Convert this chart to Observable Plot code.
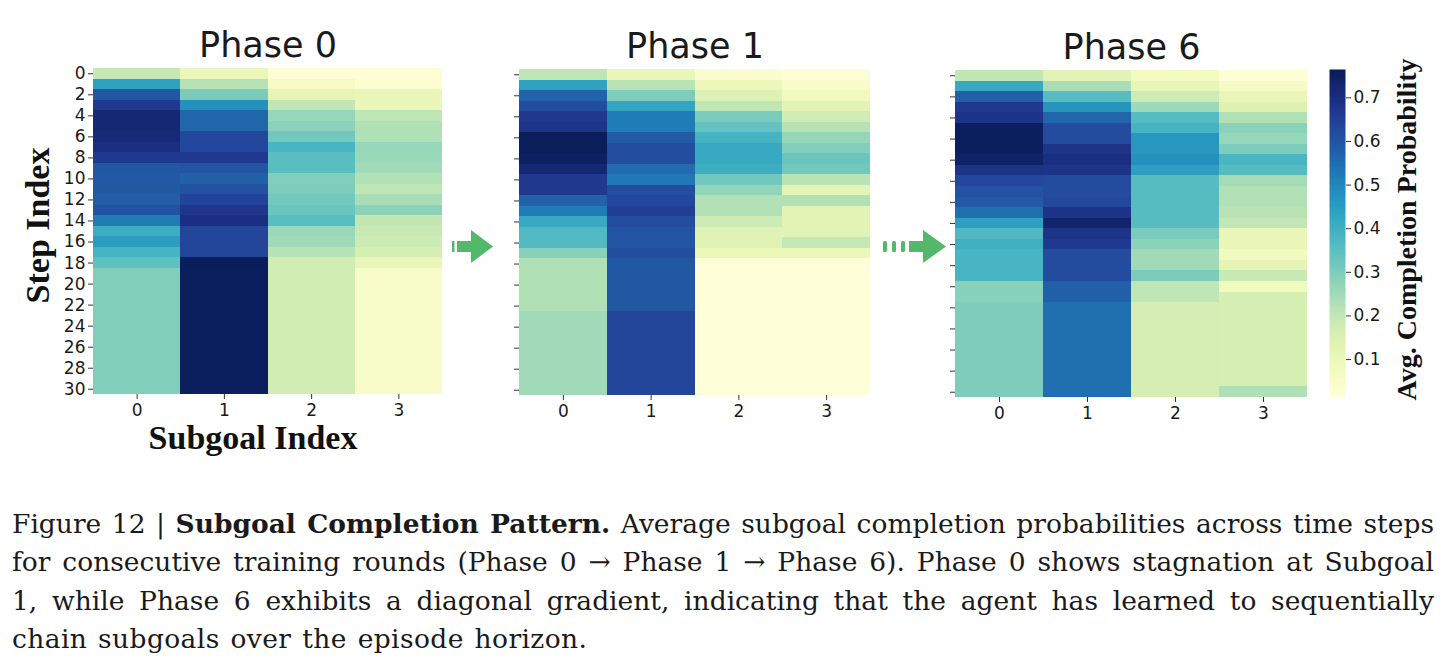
<!DOCTYPE html>
<html>
<head>
<meta charset="utf-8">
<script src="https://cdn.jsdelivr.net/npm/d3@7"></script>
<script src="https://cdn.jsdelivr.net/npm/@observablehq/plot@0.6"></script>
<style>
  html, body { margin: 0; padding: 0; background: #fff; }
  body { width: 1446px; height: 670px; position: relative; overflow: hidden; font-family: "DejaVu Sans", sans-serif; }
  .abs { position: absolute; }
  #caption { position: absolute; left: 12px; top: 505px; width: 1422px; font-family: "DejaVu Serif", serif; font-size: 26.5px; line-height: 38.4px; color: #1a1a1a; }
  #caption div { text-align: justify; text-align-last: justify; white-space: nowrap; }
  #caption div.last { text-align: left; text-align-last: left; word-spacing: 2px; letter-spacing: 0.4px; }
</style>
</head>
<body>
<div id="root"></div>
<div id="caption">
  <div>Figure 12 | <b>Subgoal Completion Pattern.</b> Average subgoal completion probabilities across time steps</div>
  <div>for consecutive training rounds (Phase 0 → Phase 1 → Phase 6). Phase 0 shows stagnation at Subgoal</div>
  <div>1, while Phase 6 exhibits a diagonal gradient, indicating that the agent has learned to sequentially</div>
  <div class="last">chain subgoals over the episode horizon.</div>
</div>
<script>
// ---------- data ----------
const subgoals = [0, 1, 2, 3];
const steps = [0,1,2,3,4,5,6,7,8,9,10,11,12,13,14,15,16,17,18,19,20,21,22,23,24,25,26,27,28,29,30];
const yTickValues = [0,2,4,6,8,10,12,14,16,18,20,22,24,26,28,30];
const colorbarTicks = [0.1, 0.2, 0.3, 0.4, 0.5, 0.6, 0.7];
const colorDomain = [0.013, 0.765];
const phaseTitles = ["Phase 0", "Phase 1", "Phase 6"];

// Phase 0 — one array per subgoal, indexed by step 0..30
const phase0_sg0 = [0.195,0.44,0.595,0.67,0.72,0.72,0.715,0.695,0.665,0.595,0.59,0.595,0.58,0.605,0.52,0.405,0.45,0.39,0.345,0.295,0.295,0.295,0.295,0.295,0.295,0.295,0.295,0.295,0.295,0.295,0.295];
const phase0_sg1 = [0.105,0.22,0.305,0.48,0.565,0.565,0.63,0.63,0.665,0.6,0.575,0.605,0.64,0.675,0.695,0.635,0.635,0.635,0.76,0.755,0.755,0.755,0.755,0.755,0.755,0.755,0.755,0.755,0.755,0.755,0.755];
const phase0_sg2 = [0.022,0.06,0.12,0.2,0.265,0.28,0.315,0.385,0.355,0.355,0.295,0.3,0.315,0.33,0.355,0.26,0.25,0.22,0.17,0.17,0.17,0.17,0.17,0.17,0.17,0.17,0.17,0.17,0.17,0.17,0.17];
const phase0_sg3 = [0.02,0.03,0.105,0.105,0.205,0.23,0.23,0.265,0.26,0.25,0.225,0.205,0.24,0.28,0.2,0.19,0.18,0.16,0.11,0.055,0.055,0.055,0.055,0.055,0.055,0.055,0.055,0.055,0.055,0.055,0.055];

// Phase 1
const phase1_sg0 = [0.205,0.44,0.57,0.615,0.67,0.68,0.76,0.76,0.75,0.72,0.67,0.67,0.575,0.52,0.42,0.37,0.37,0.285,0.23,0.23,0.23,0.23,0.23,0.25,0.25,0.25,0.25,0.25,0.25,0.25,0.25];
const phase1_sg1 = [0.105,0.215,0.3,0.43,0.52,0.52,0.585,0.615,0.615,0.555,0.53,0.615,0.63,0.65,0.615,0.6,0.6,0.615,0.595,0.595,0.595,0.595,0.595,0.635,0.635,0.635,0.635,0.635,0.635,0.635,0.635];
const phase1_sg2 = [0.035,0.1,0.145,0.205,0.305,0.335,0.39,0.42,0.42,0.405,0.315,0.27,0.225,0.225,0.18,0.135,0.135,0.1,0.015,0.015,0.015,0.015,0.015,0.015,0.015,0.015,0.015,0.015,0.015,0.015,0.015];
const phase1_sg3 = [0.02,0.055,0.085,0.13,0.17,0.22,0.265,0.29,0.33,0.315,0.215,0.125,0.225,0.13,0.13,0.13,0.195,0.1,0.015,0.015,0.015,0.015,0.015,0.015,0.015,0.015,0.015,0.015,0.015,0.015,0.015];

// Phase 6
const phase6_sg0 = [0.2,0.42,0.575,0.67,0.685,0.755,0.755,0.755,0.745,0.685,0.63,0.605,0.59,0.545,0.445,0.37,0.4,0.385,0.385,0.385,0.285,0.285,0.3,0.3,0.3,0.3,0.3,0.3,0.3,0.3,0.3];
const phase6_sg1 = [0.13,0.24,0.36,0.47,0.565,0.62,0.62,0.68,0.7,0.68,0.62,0.62,0.625,0.685,0.735,0.68,0.665,0.62,0.62,0.62,0.575,0.575,0.545,0.545,0.545,0.545,0.545,0.545,0.545,0.545,0.545];
const phase6_sg2 = [0.07,0.115,0.18,0.255,0.36,0.39,0.465,0.465,0.48,0.445,0.36,0.36,0.36,0.36,0.36,0.305,0.28,0.25,0.25,0.305,0.205,0.205,0.165,0.165,0.165,0.165,0.165,0.165,0.165,0.165,0.165];
const phase6_sg3 = [0.02,0.06,0.11,0.14,0.225,0.28,0.265,0.3,0.38,0.36,0.245,0.225,0.225,0.215,0.2,0.105,0.105,0.08,0.12,0.185,0.08,0.16,0.16,0.16,0.16,0.16,0.16,0.16,0.16,0.16,0.23];

// ---------- layout ----------
const root = document.getElementById("root");
const baseStyle = {fontFamily: "DejaVu Sans", fontSize: "17px", color: "#1a1a1a", background: "transparent", overflow: "visible"};
const colorScale = {type: "linear", scheme: "YlGnBu", domain: colorDomain};

function place(el, left, top) {
  el.classList.add("abs");
  el.style.left = left + "px";
  el.style.top = top + "px";
  root.appendChild(el);
}

function heatmap(title, columns, frame, showLabels) {
  const [fl, fr, ft, fb] = frame;
  const mL = 80, mR = 12, mT = ft, mB = 70;
  const table = [];
  columns.forEach((col, s) => col.forEach((v, t) => table.push({subgoal: subgoals[s], step: steps[t], value: v})));
  const marks = [
    Plot.cell(table, {x: "subgoal", y: "step", fill: "value", shapeRendering: "crispEdges"}),
    Plot.axisX({tickSize: 5, tickPadding: 4, label: null, stroke: "#333"}),
    Plot.axisY({ticks: yTickValues, tickSize: 5, tickPadding: 3, label: null, stroke: "#333",
                tickFormat: showLabels ? (d) => String(d) : () => ""}),
    Plot.text([title], {frameAnchor: "top", dy: -12, lineAnchor: "bottom", fontSize: 35, fill: "#1a1a1a", fontFamily: "DejaVu Sans"})
  ];
  if (showLabels) {
    marks.push(Plot.text(["Subgoal Index"], {frameAnchor: "bottom", dx: -15, dy: 54, lineAnchor: "bottom", fontSize: 34, fontWeight: "bold", fontFamily: "Liberation Serif", fill: "#111"}));
    marks.push(Plot.text(["Step Index"], {frameAnchor: "left", textAnchor: "middle", dx: -45, dy: -6, rotate: -90, lineAnchor: "bottom", fontSize: 34, fontWeight: "bold", fontFamily: "Liberation Serif", fill: "#111"}));
  }
  const svg = Plot.plot({
    width: (fr - fl) + mL + mR,
    height: (fb - ft) + mT + mB,
    marginLeft: mL, marginRight: mR, marginTop: mT, marginBottom: mB,
    style: baseStyle,
    x: {type: "band", domain: subgoals, padding: 0, round: false},
    y: {type: "band", domain: steps, padding: 0, round: false},
    color: colorScale,
    marks
  });
  place(svg, fl - mL, 0);
}

heatmap(phaseTitles[0], [phase0_sg0, phase0_sg1, phase0_sg2, phase0_sg3], [93, 442, 68, 394], true);
heatmap(phaseTitles[1], [phase1_sg0, phase1_sg1, phase1_sg2, phase1_sg3], [519, 870, 69, 395], false);
heatmap(phaseTitles[2], [phase6_sg0, phase6_sg1, phase6_sg2, phase6_sg3], [955, 1307, 70, 397], false);

// colorbar
(function () {
  const fl = 1329, fr = 1345, ft = 69, fb = 397;
  const mL = 10, mR = 100, mT = ft, mB = 20;
  const svg = Plot.plot({
    width: (fr - fl) + mL + mR,
    height: (fb - ft) + mT + mB,
    marginLeft: mL, marginRight: mR, marginTop: mT, marginBottom: mB,
    style: baseStyle,
    x: {domain: [0, 1], axis: null},
    y: {domain: colorDomain},
    color: colorScale,
    marks: [
      Plot.raster({x1: 0, x2: 1, y1: colorDomain[0], y2: colorDomain[1], width: 1, height: 300, fill: (x, y) => y, imageRendering: "auto"}),
      Plot.axisY({anchor: "right", ticks: colorbarTicks, tickSize: 5, tickPadding: 3, label: null, stroke: "#333", tickFormat: (d) => d.toFixed(1)}),
      Plot.text(["Avg. Completion Probability"], {frameAnchor: "right", textAnchor: "middle", dx: 70, dy: -4, rotate: -90, lineAnchor: "bottom", fontSize: 28, fontWeight: "bold", fontFamily: "Liberation Serif", fill: "#111"})
    ]
  });
  place(svg, fl - mL, 0);
})();

// phase-transition arrows (decoration)
const ns = "http://www.w3.org/2000/svg";
const arrows = document.createElementNS(ns, "svg");
arrows.setAttribute("width", 1446);
arrows.setAttribute("height", 670);
arrows.innerHTML = `
  <g fill="#52b96b">
    <rect x="452" y="241" width="2.5" height="11"/>
    <rect x="457" y="241" width="15" height="11"/>
    <polygon points="471,230 493,246.5 471,263"/>
    <rect x="883" y="241" width="4" height="11" rx="1.5"/>
    <rect x="892" y="241" width="4" height="11" rx="1.5"/>
    <rect x="901" y="241" width="4" height="11" rx="1.5"/>
    <rect x="909" y="241" width="15" height="11"/>
    <polygon points="923,230 946,246.5 923,263"/>
  </g>`;
arrows.style.pointerEvents = "none";
place(arrows, 0, 0);
</script>
</body>
</html>
